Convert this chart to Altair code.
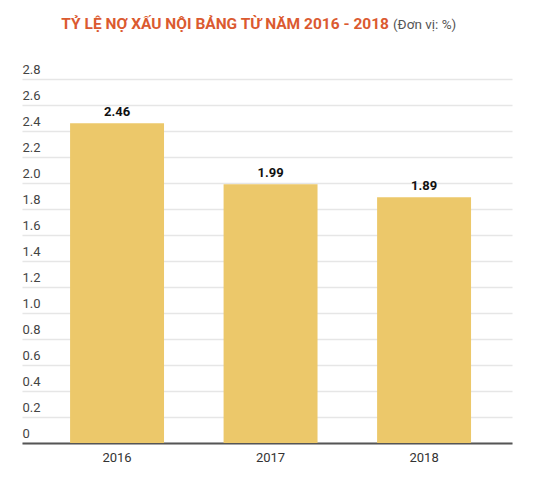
import altair as alt
import pandas as pd

years = ["2016", "2017", "2018"]
values = [2.46, 1.99, 1.89]
title_main = "TỶ LỆ NỢ XẤU NỘI BẢNG TỪ NĂM 2016 - 2018"
title_unit = "(Đơn vị: %)"
y_ticks = [0, 0.2, 0.4, 0.6, 0.8, 1.0, 1.2, 1.4, 1.6, 1.8, 2.0, 2.2, 2.4, 2.6, 2.8]

df = pd.DataFrame({"year": years, "value": values})

FONT = "Roboto"
W, H = 490, 364

base = alt.Chart(df).encode(
    x=alt.X("year:N", sort=years,
            scale=alt.Scale(paddingInner=0.388, paddingOuter=0.29, align=0.54),
            axis=alt.Axis(title=None, labelAngle=0, labelFont=FONT, labelFontSize=13,
                          labelColor="#333333", labelPadding=8, ticks=False,
                          domain=True, domainColor="#555555", domainWidth=2)),
    y=alt.Y("value:Q",
            scale=alt.Scale(domain=[0, 2.8], nice=False),
            axis=alt.Axis(title=None, values=y_ticks,
                          labelExpr="datum.value == 0 ? '0' : format(datum.value, '.1f')",
                          labelAlign="left", labelBaseline="bottom", labelPadding=0,
                          labelOffset=-3, tickSize=0, ticks=False, domain=False,
                          labelFont=FONT, labelFontSize=13, labelColor="#444444",
                          grid=True, gridColor="#e6e6e6", gridWidth=1.5,
                          labelFlush=False, labelOverlap=False)),
)

bars = base.mark_bar(color="#ecc86a")

labels = base.mark_text(dy=-4, baseline="bottom", font=FONT, fontSize=13,
                        fontWeight="bold", color="#111111").encode(
    text=alt.Text("value:Q", format=".2f"),
)

tdf = pd.DataFrame({"t": [title_main]})
udf = pd.DataFrame({"t": [title_unit]})
t1 = alt.Chart(tdf).mark_text(align="right", baseline="alphabetic", font=FONT, fontSize=15.5,
                              fontWeight="bold", color="#db5a30").encode(
    x=alt.value(367), y=alt.value(-50), text="t:N")
t2 = alt.Chart(udf).mark_text(align="left", baseline="alphabetic", font=FONT, fontSize=13.5,
                              color="#555555").encode(
    x=alt.value(371), y=alt.value(-50), text="t:N")

chart = alt.layer(bars, labels, t1, t2).properties(
    width=W, height=H,
    autosize=alt.AutoSizeParams(type="none"),
    padding={"left": 14, "top": 71, "right": 15, "bottom": 29},
).configure(background="white").configure_view(stroke=None)

chart.save("out.html", embed_options={"renderer": "svg", "actions": False})
